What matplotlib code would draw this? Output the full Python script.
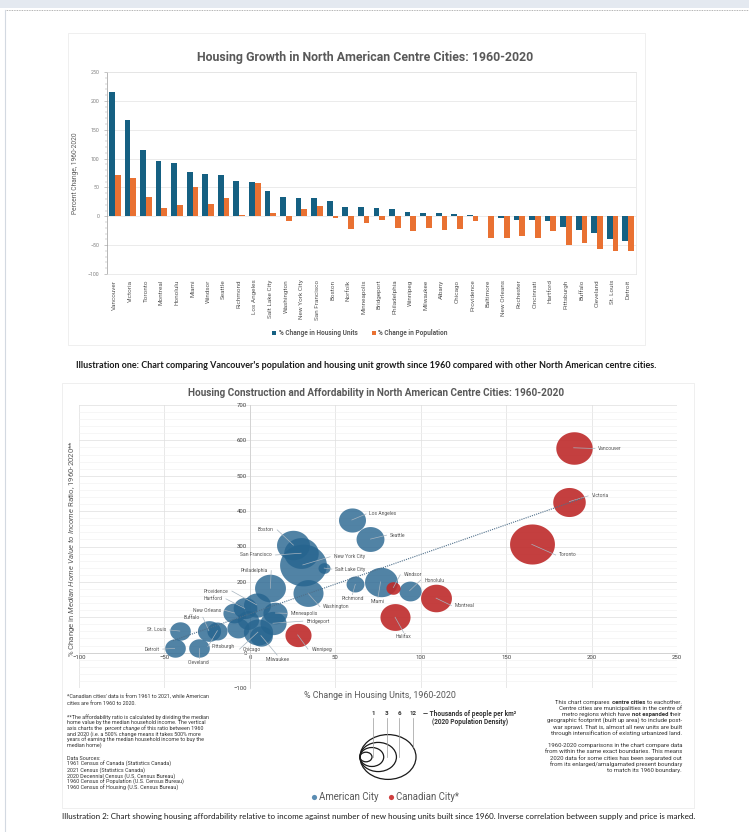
import matplotlib
matplotlib.use('Agg')
import matplotlib.pyplot as plt
import numpy as np
from matplotlib.path import Path
from matplotlib.patches import Ellipse, Rectangle

plt.rcParams['font.family'] = ['Roboto', 'DejaVu Sans']
plt.rcParams['mathtext.fontset'] = 'custom'
plt.rcParams['mathtext.rm'] = 'Roboto'
plt.rcParams['mathtext.it'] = 'Roboto:italic'
plt.rcParams['mathtext.bf'] = 'Roboto:bold'

# ---------------- data: chart 1 ----------------
cities = ["Vancouver", "Victoria", "Toronto", "Montreal", "Honolulu", "Miami", "Windsor",
          "Seattle", "Richmond", "Los Angeles", "Salt Lake City", "Washington", "New York City",
          "San Francisco", "Boston", "Norfolk", "Minneapolis", "Bridgeport", "Philadelphia",
          "Winnipeg", "Milwaukee", "Albany", "Chicago", "Providence", "Baltimore", "New Orleans",
          "Rochester", "Cincinnati", "Hartford", "Pittsburgh", "Buffalo", "Cleveland",
          "St. Louis", "Detroit"]
housing_change = [215, 166, 115, 95, 93, 77, 73, 71, 62, 60, 43, 33, 31, 31, 27, 16, 16, 14, 12,
                  8, 6, 5, 4, 3, 1, -3, -6, -7, -8, -19, -23, -29, -40, -43]
population_change = [72, 67, 33, 15, 19, 51, 21, 32, 3, 57, 6, -9, 13, 18, -3, -22, -11, -6, -20,
                     -25, -21, -24, -22, -8, -37, -38, -34, -38, -25, -50, -47, -57, -60, -61]

# ---------------- data: chart 2 (bubbles) ----------------
bub_city = ["Vancouver", "Victoria", "Toronto", "Montreal", "Halifax", "Windsor", "Winnipeg",
            "Los Angeles", "Seattle", "Richmond", "Miami", "Honolulu", "Washington",
            "Salt Lake City", "New York City", "San Francisco", "Boston", "Philadelphia",
            "Providence", "Hartford", "New Orleans", "Minneapolis", "Bridgeport", "Chicago",
            "Milwaukee", "Buffalo", "Pittsburgh", "St. Louis", "Detroit", "Cleveland",
            "Rochester", "Cincinnati"]
bub_country = ["CA", "CA", "CA", "CA", "CA", "CA", "CA",
               "US", "US", "US", "US", "US", "US",
               "US", "US", "US", "US", "US",
               "US", "US", "US", "US", "US", "US",
               "US", "US", "US", "US", "US", "US",
               "US", "US"]
bub_units = [189.5, 187, 165, 109, 85, 84, 28,
             59.7, 70.6, 61.7, 76.5, 93.5, 34,
             43.5, 31, 30, 25.5, 12,
             4, -3, -9, 15, 13.5, 4.7,
             6.5, -24, -19, -41, -44, -30,
             -7, -1]
bub_afford = [579, 427, 306, 154, 100, 184, 50,
              375, 321, 193, 200, 175, 168,
              239, 248, 281, 304, 182,
              135, 125, 112, 112, 83, 58,
              48, 62, 62, 61, 12, 12,
              69, 92]
bub_density = [6.0, 5.0, 8.4, 4.6, 4.4, 1.3, 3.5,
               3.7, 3.9, 1.9, 5.1, 2.7, 4.4,
               1.0, 9.0, 5.5, 5.1, 4.6,
               3.7, 3.0, 2.7, 3.1, 3.5, 4.2,
               2.8, 2.9, 2.3, 2.4, 2.4, 2.4,
               2.7, 2.5]
trend_x = [-45, 195]
trend_y = [34, 437]
legend_density = [1, 3, 6, 12]

# ---------------- label placement (styling) ----------------
label_pos = {
    "Vancouver": (204, 577, 'left'), "Victoria": (200, 443, 'left'), "Toronto": (181, 276, 'left'),
    "Montreal": (120, 133, 'left'), "Halifax": (90, 45, 'center'), "Windsor": (90, 220, 'left'),
    "Winnipeg": (36, 10, 'left'), "Los Angeles": (70, 392, 'left'), "Seattle": (82, 332, 'left'),
    "Richmond": (60, 152, 'center'), "Miami": (75, 144, 'center'), "Honolulu": (102, 205, 'left'),
    "Washington": (43, 130, 'left'), "Salt Lake City": (50, 236, 'left'),
    "New York City": (49, 271, 'left'), "San Francisco": (13, 276, 'right'),
    "Boston": (14, 347, 'right'), "Philadelphia": (10.5, 232, 'right'),
    "Providence": (-12.5, 174, 'right'), "Hartford": (-16, 152, 'right'),
    "New Orleans": (-17, 120, 'right'), "Minneapolis": (24, 111, 'left'),
    "Bridgeport": (33, 89, 'left'), "Chicago": (-4, 10, 'left'), "Milwaukee": (16, -19, 'center'),
    "Buffalo": (-29.5, 100, 'right'), "Pittsburgh": (-22.6, 17, 'left'),
    "St. Louis": (-49, 64, 'right'), "Detroit": (-53, 10, 'right'), "Cleveland": (-30, -27, 'center'),
}

W, H = 749, 832
fig = plt.figure(figsize=(W / 100, H / 100), dpi=100)
fig.patch.set_facecolor('white')
renderer = fig.canvas.get_renderer()


def rect(l, t, r, b):
    return [l / W, 1 - b / H, (r - l) / W, (b - t) / H]


def fxy(px, py):
    return (px / W, 1 - py / H)


# background / page chrome in pixel coordinates
bg = fig.add_axes([0, 0, 1, 1])
bg.set_xlim(0, W)
bg.set_ylim(H, 0)
bg.axis('off')
bg.set_zorder(0)
bg.add_patch(Rectangle((0, 0), W, 8, color='#e4e9f0', lw=0))
bg.plot([5, W], [10, 10], ls=(0, (1, 1)), color='#9a9a9a', lw=0.6)
bg.plot([5, 5], [10, H], color='#d3d9e1', lw=0.8)
bg.add_patch(Rectangle((68, 33), 577, 312, fill=False, ec='#ececec', lw=0.6))
bg.add_patch(Rectangle((62, 383), 632, 425, fill=False, ec='#ececec', lw=0.6))

GRAY = '#595959'


def _measure(txt, kw):
    a = bg.text(0, 0, txt, **kw)
    wd = a.get_window_extent(renderer).width
    a.remove()
    return wd


def rich_line(xpos, y, segments, ha, size, color):
    """Mixed-style line drawn in bg pixel coords; y is the visual centre of the line."""
    base_kw = dict(fontsize=size, color=color, va='baseline', ha='left')
    size_px = size * 100 / 72
    space = max(_measure('a a', base_kw) - _measure('aa', base_kw), 0.3 * size_px)
    yb = y + 0.36 * size_px
    items = []
    for txt, st in segments:
        kw = dict(base_kw)
        if st == 'b':
            kw['weight'] = 'bold'
        elif st == 'i':
            kw['style'] = 'italic'
        lead = len(txt) - len(txt.lstrip(' '))
        trail = len(txt) - len(txt.rstrip(' '))
        core = txt.strip(' ')
        items.append((core, kw, lead, trail, _measure(core, kw)))
    total = sum(it[4] + (it[2] + it[3]) * space for it in items)
    x0 = xpos - total if ha == 'right' else xpos
    for core, kw, lead, trail, wd in items:
        x0 += lead * space
        bg.text(x0, yb, core, **kw)
        x0 += wd + trail * space


# ---------------- chart 1 ----------------
ax1 = fig.add_axes(rect(107, 72, 636, 274))
ax1.set_zorder(1)
x = np.arange(len(cities))
w = 0.37
ax1.bar(x - w / 2, housing_change, w, color='#156082', label='% Change in Housing Units', zorder=3)
ax1.bar(x + w / 2, population_change, w, color='#E97132', label='% Change in Population', zorder=3)
ax1.set_xlim(-0.5, len(cities) - 0.5)
ax1.set_ylim(-100, 250)
ax1.set_yticks(range(-100, 251, 50))
ax1.set_yticks(range(-100, 251, 10), minor=True)
ax1.set_xticks(x)
ax1.set_xticklabels(cities, rotation=90, fontsize=4.6, color=GRAY)
ax1.tick_params(axis='x', length=0, pad=4)
ax1.tick_params(axis='y', which='major', labelsize=3.8, labelcolor='#7f7f7f', length=2.5,
                width=0.4, color='#9a9a9a', pad=3)
ax1.tick_params(axis='y', which='minor', length=1.5, width=0.3, color='#9a9a9a')
ax1.grid(axis='y', color='#e3e3e3', lw=0.5, zorder=0)
for s in ['top', 'right', 'bottom']:
    ax1.spines[s].set_color('#e3e3e3')
    ax1.spines[s].set_linewidth(0.5)
ax1.spines['left'].set_color('#9a9a9a')
ax1.spines['left'].set_linewidth(0.5)
ax1.set_ylabel('Percent Change, 1960-2020', fontsize=4.8, color=GRAY, labelpad=6)
fig.text(*fxy(365, 58), 'Housing Growth in North American Centre Cities: 1960-2020',
         ha='center', va='center', fontsize=8.9, weight='bold', color=GRAY)
ax1.legend(loc='center', bbox_to_anchor=fxy(360, 333), bbox_transform=fig.transFigure,
           ncol=2, frameon=False, handlelength=0.6, handleheight=0.6,
           columnspacing=2.2, handletextpad=0.4, labelcolor=GRAY,
           prop={'size': 4.7, 'weight': 'semibold'})

bg.text(366, 366, "Illustration one: Chart comparing Vancouver's population and housing unit growth "
        "since 1960 compared with other North American centre cities.",
        ha='center', va='center', fontsize=6.5, weight='bold', family=['Lato', 'DejaVu Sans'],
        color='#1a1a1a')

# ---------------- chart 2 ----------------
ax2 = fig.add_axes(rect(79, 405, 677, 688))
ax2.set_zorder(1)
ax2.patch.set_alpha(0)
ax2.set_xlim(-100, 250)
ax2.set_ylim(-100, 700)
ax2.set_xticks(range(-100, 251, 50))
ax2.set_yticks(range(-100, 701, 100))
ax2.set_yticks(range(-100, 701, 20), minor=True)
ax2.tick_params(which='both', length=0)
ax2.tick_params(axis='both', labelsize=4.3, labelcolor='#404040', pad=2)
for lab in ax2.get_xticklabels() + ax2.get_yticklabels():
    lab.set_fontweight('bold')
ax2.grid(which='major', color='#dedede', lw=0.5, zorder=0)
ax2.grid(which='minor', axis='y', color='#f0f0f0', lw=0.4, zorder=0)
ax2.set_axisbelow(True)
ax2.spines['left'].set_position(('data', 0))
ax2.spines['bottom'].set_position(('data', 0))
for s in ['left', 'bottom']:
    ax2.spines[s].set_color('#d0d0d0')
    ax2.spines[s].set_linewidth(0.6)
for s in ['top', 'right']:
    ax2.spines[s].set_visible(False)

t = np.linspace(0, 2 * np.pi, 73)
ell_marker = Path(np.column_stack([1.12 * np.cos(t), np.sin(t)]))


def diam_px(d):
    return 12 * np.asarray(d, dtype=float) ** 0.62


bx = np.array(bub_units)
by = np.array(bub_afford)
bd = np.array(bub_density)
is_ca = np.array([c == 'CA' for c in bub_country])
sizes = (0.72 * diam_px(bd)) ** 2
order = np.argsort(-bd)
for i in order:
    col = '#be2a2a' if is_ca[i] else '#26648f'
    al = 0.9 if is_ca[i] else 0.8
    ax2.scatter(bx[i], by[i], s=sizes[i], marker=ell_marker, color=col, alpha=al,
                linewidths=0, zorder=3)

ax2.plot(trend_x, trend_y, ls=(0, (1, 1)), color='#4f6f8a', lw=0.8, zorder=5)

for i, name in enumerate(bub_city):
    if name not in label_pos:
        continue
    lx, ly, ha = label_pos[name]
    if ha == 'left':
        ex, ey = lx - 2, ly
    elif ha == 'right':
        ex, ey = lx + 2, ly
    else:
        ex, ey = lx, (ly + 12 if ly < by[i] else ly - 12)
    ax2.plot([bx[i], ex], [by[i], ey], color='#a7b4bf', lw=0.5, zorder=4)
    ax2.text(lx, ly, name, ha=ha, va='center', fontsize=3.6, color='#555555', zorder=6)

fig.text(*fxy(376, 393), 'Housing Construction and Affordability in North American Centre Cities: 1960-2020',
         ha='center', va='center', fontsize=7.2, weight='bold', color=GRAY)
bg.text(72, 548, r'% Change in $\it{Median\ Home\ Value\ to\ Income}$ Ratio, 1960-2020**',
        rotation=90, ha='center', va='center', fontsize=5.6, color=GRAY)
bg.text(380, 695, '% Change in Housing Units, 1960-2020', ha='center', va='center',
        fontsize=6.4, color=GRAY)

# notes (left), one line at a time
left_lines = [
    (697.0, [("*Canadian cities' data is from 1961 to 2021, while American", 'n')]),
    (703.0, [("cities are from 1960 to 2020.", 'n')]),
    (717.0, [("**The affordability ratio is calculated by dividing the median", 'n')]),
    (722.5, [("home value by the median household income. The vertical", 'n')]),
    (728.0, [("axis charts the ", 'n'), ("percent change", 'i'), (" of this ratio between 1960", 'n')]),
    (733.5, [("and 2020 (i.e. a 500% change means it takes 500% more", 'n')]),
    (739.0, [("years of earning the median household income to buy the", 'n')]),
    (744.5, [("median home)", 'n')]),
    (758.0, [("Data Sources:", 'n')]),
    (764.0, [("1961 Census of Canada (Statistics Canada)", 'n')]),
    (770.0, [("2021 Census (Statistics Canada)", 'n')]),
    (776.0, [("2020 Decennial Census (U.S. Census Bureau)", 'n')]),
    (782.0, [("1960 Census of Population (U.S. Census Bureau)", 'n')]),
    (788.0, [("1960 Census of Housing (U.S. Census Bureau)", 'n')]),
]
for yy, segs in left_lines:
    rich_line(67, yy, segs, 'left', 3.9, '#333333')

right_lines = [
    (701.7, [("This chart compares ", 'n'), ("centre cities", 'b'), (" to eachother.", 'n')]),
    (707.9, [("Centre cities are municipalities in the centre of", 'n')]),
    (714.1, [("metro regions which have ", 'n'), ("not expanded", 'b'), (" their", 'n')]),
    (720.3, [("geographic footprint (built up area) to include post-", 'n')]),
    (726.5, [("war sprawl. That is, almost all new units are built", 'n')]),
    (732.7, [("through intensification of existing urbanized land.", 'n')]),
    (745.0, [("1960-2020 comparisons in the chart compare data", 'n')]),
    (751.2, [("from within the same exact boundaries. This means", 'n')]),
    (757.4, [("2020 data for some cities has been separated out", 'n')]),
    (763.6, [("from its enlarged/amalgamated present boundary", 'n')]),
    (769.8, [("to match its 1960 boundary.", 'n')]),
]
for yy, segs in right_lines:
    rich_line(682, yy, segs, 'right', 4.3, '#333333')

# size legend
lx0, lcy = 360, 757
label_xs = [373, 387, 399, 413]
for dens, xl in zip(legend_density, label_xs):
    d = float(diam_px(dens))
    hgt = d / 1.25
    cx = lx0 + d / 2
    bg.add_patch(Ellipse((cx, lcy), d, hgt, fill=False, ec='#1a1a1a', lw=0.9))
    dx = (xl - cx) / (d / 2)
    yend = lcy if abs(dx) >= 1 else lcy - (hgt / 2) * np.sqrt(1 - dx ** 2)
    bg.plot([xl, xl], [718, yend], color='#9a9a9a', lw=0.5)
    bg.text(xl, 713.5, str(dens), ha='center', va='center', fontsize=4.5, weight='bold', color='#333333')
bg.text(423, 713.5, '— Thousands of people per km²', ha='left', va='center', fontsize=4.7,
        weight='bold', color='#333333')
bg.text(432, 722.5, '(2020 Population Density)', ha='left', va='center', fontsize=4.7,
        weight='bold', color='#333333')

# colour legend
bg.scatter([313.5], [797], s=14, color='#5b8db3', lw=0)
bg.text(319, 797, 'American City', ha='left', va='center', fontsize=6.9, color=GRAY)
bg.scatter([391], [797], s=14, color='#cf4040', lw=0)
bg.text(396.5, 797, 'Canadian City*', ha='left', va='center', fontsize=6.9, color=GRAY)

bg.text(62, 816, "Illustration 2: Chart showing housing affordability relative to income against number "
        "of new housing units built since 1960. Inverse correlation between supply and price is marked.",
        ha='left', va='center', fontsize=5.8, family=['Lato', 'DejaVu Sans'], color='#1a1a1a')

fig.savefig('out.png', dpi=100, facecolor='white')
